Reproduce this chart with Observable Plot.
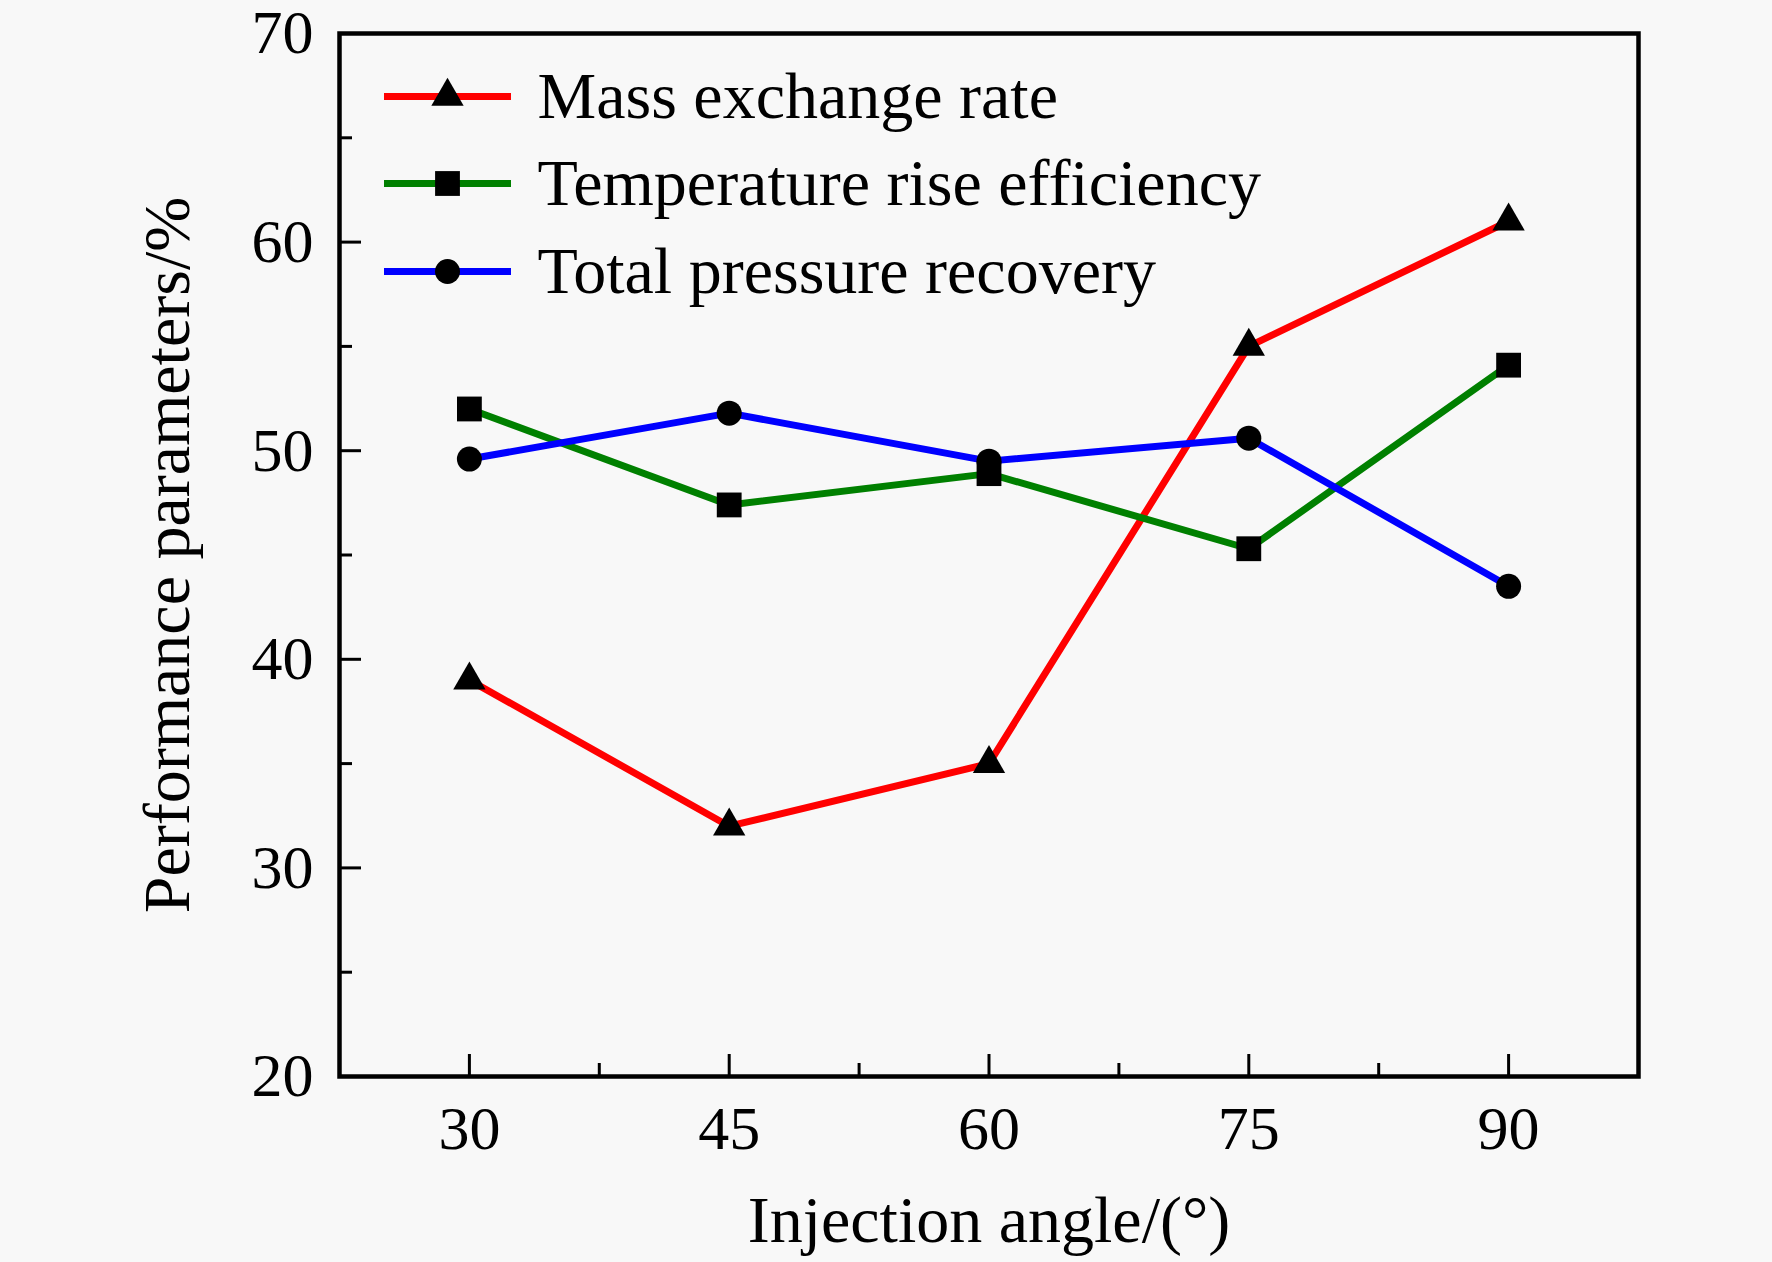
<!DOCTYPE html>
<html><head><meta charset="utf-8">
<script src="https://cdn.jsdelivr.net/npm/d3@7"></script>
<script src="https://cdn.jsdelivr.net/npm/@observablehq/plot@0.6"></script>
<style>html,body{margin:0;padding:0;background:#f8f8f8;} #chart svg{display:block;}</style>
</head><body><div id="chart"></div>
<script>
// ---- data ----
const angles = [30, 45, 60, 75, 90];
const massExchange = [39, 32, 35, 55, 61];
const tempRise = [52, 47.4, 48.9, 45.3, 54.1];
const pressureRecovery = [49.6, 51.8, 49.5, 50.6, 43.5];
const seriesNames = ["Mass exchange rate", "Temperature rise efficiency", "Total pressure recovery"];
const seriesColors = ["#ff0000", "#008000", "#0000ff"];
const seriesSymbols = ["triangle", "square", "circle"];
const seriesRadius = [12, 14, 12.5];
const xTicks = [30, 45, 60, 75, 90];
const xMinorTicks = [37.5, 52.5, 67.5, 82.5];
const yTicks = [20, 30, 40, 50, 60, 70];
const yMinorTicks = [25, 35, 45, 55, 65];
const xDomain = [22.5, 97.5];
const yDomain = [20, 70];
const xTitle = "Injection angle/(°)";
const yTitle = "Performance parameters/%";

// ---- layout ----
const W = 1772, H = 1262;
const mL = 339, mR = 134, mT = 33, mB = 186;
const plotW = W - mL - mR, plotH = H - mT - mB;
const xPerPx = (xDomain[1] - xDomain[0]) / plotW;
const yPerPx = (yDomain[1] - yDomain[0]) / plotH;
const px2x = px => xDomain[0] + (px - mL) * xPerPx;
const px2y = py => yDomain[1] - (py - mT) * yPerPx;

const seriesValues = [massExchange, tempRise, pressureRecovery];
const rows = [];
seriesNames.forEach((s, i) => angles.forEach((a, j) => rows.push({series: s, angle: a, value: seriesValues[i][j]})));

const font = "'Liberation Serif', 'Times New Roman', serif";

const marks = [];
// inward ticks
marks.push(Plot.ruleX(xTicks, {x: d => d, y1: yDomain[0], y2: yDomain[0] + 22 * yPerPx, stroke: "black", strokeWidth: 3}));
marks.push(Plot.ruleX(xMinorTicks, {x: d => d, y1: yDomain[0], y2: yDomain[0] + 13 * yPerPx, stroke: "black", strokeWidth: 3}));
marks.push(Plot.ruleY(yTicks, {y: d => d, x1: xDomain[0], x2: xDomain[0] + 22 * xPerPx, stroke: "black", strokeWidth: 3}));
marks.push(Plot.ruleY(yMinorTicks, {y: d => d, x1: xDomain[0], x2: xDomain[0] + 13 * xPerPx, stroke: "black", strokeWidth: 3}));

// series lines
seriesNames.forEach((s, i) => {
  marks.push(Plot.line(rows.filter(r => r.series === s), {x: "angle", y: "value", stroke: seriesColors[i], strokeWidth: 7}));
});
seriesNames.forEach((s, i) => {
  marks.push(Plot.dot(rows.filter(r => r.series === s), {x: "angle", y: "value", symbol: seriesSymbols[i], r: seriesRadius[i], fill: "black", stroke: "none"}));
});

// legend
const legendRowsPx = [96, 183, 271];
seriesNames.forEach((s, i) => {
  const ly = px2y(legendRowsPx[i]);
  marks.push(Plot.ruleY([ly], {y: d => d, x1: px2x(384), x2: px2x(511), stroke: seriesColors[i], strokeWidth: 7}));
  marks.push(Plot.dot([ly], {x: px2x(447), y: d => d, symbol: seriesSymbols[i], r: seriesRadius[i], fill: "black", stroke: "none"}));
  marks.push(Plot.text([s], {x: px2x(537), y: ly, text: d => d, textAnchor: "start", lineAnchor: "middle", fontSize: 66, fill: "black"}));
});

// axes
marks.push(Plot.axisX({ticks: xTicks, tickSize: 0, tickPadding: 28, fontSize: 62, label: null, tickFormat: d => String(d)}));
marks.push(Plot.axisY({ticks: yTicks, tickSize: 0, tickPadding: 26, fontSize: 62, label: null, tickFormat: d => String(d)}));
marks.push(Plot.text([xTitle], {frameAnchor: "bottom", dy: 144, text: d => d, lineAnchor: "middle", fontSize: 66, fill: "black"}));
marks.push(Plot.text([yTitle], {x: px2x(167), y: (yDomain[0] + yDomain[1]) / 2, rotate: -90, text: d => d, textAnchor: "middle", lineAnchor: "middle", fontSize: 66, fill: "black", clip: false}));
marks.push(Plot.frame({stroke: "black", strokeWidth: 4.5}));

const chart = Plot.plot({
  width: W, height: H,
  marginLeft: mL, marginRight: mR, marginTop: mT, marginBottom: mB,
  x: {domain: xDomain},
  y: {domain: yDomain},
  style: {fontFamily: font, background: "#f8f8f8", color: "black", overflow: "visible"},
  marks
});
document.getElementById("chart").appendChild(chart);
</script>
</body></html>
